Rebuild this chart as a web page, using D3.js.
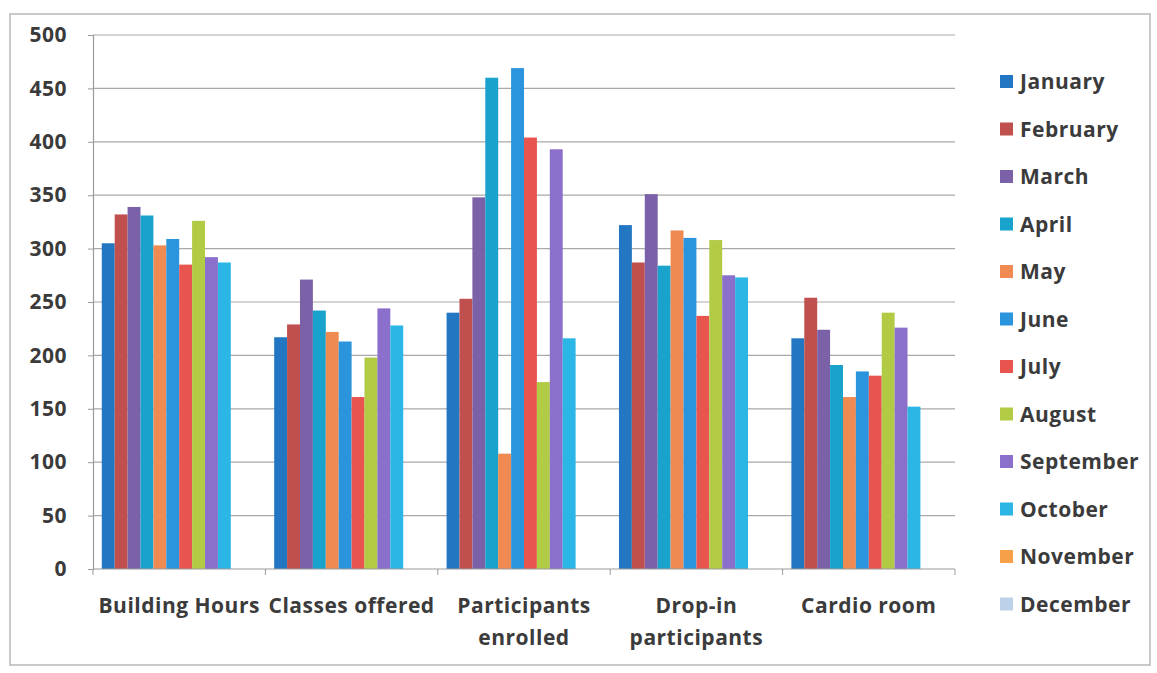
<!DOCTYPE html>
<html>
<head>
<meta charset="utf-8">
<script src="https://cdn.jsdelivr.net/npm/d3@7"></script>
<style>
  body { margin: 0; background: #fff; }
  text { font-family: "Open Sans", Lato, sans-serif; font-weight: 700; fill: #3b3b3b; letter-spacing: 0.5px; }
</style>
</head>
<body>
<div id="chart"></div>
<script>
const width = 1157;
const height = 673;

const categories = [
  ["Building Hours"],
  ["Classes offered"],
  ["Participants", "enrolled"],
  ["Drop-in", "participants"],
  ["Cardio room"]
];
const months = ["January", "February", "March", "April", "May", "June",
  "July", "August", "September", "October", "November", "December"];

// one array per month, values in category order (Nov / Dec have no data)
const january   = [305, 217, 240, 322, 216];
const february  = [332, 229, 253, 287, 254];
const march     = [339, 271, 348, 351, 224];
const april     = [331, 242, 460, 284, 191];
const may       = [303, 222, 108, 317, 161];
const june      = [309, 213, 469, 310, 185];
const july      = [285, 161, 404, 237, 181];
const august    = [326, 198, 175, 308, 240];
const september = [292, 244, 393, 275, 226];
const october   = [287, 228, 216, 273, 152];
const november  = [];
const december  = [];
const series = [january, february, march, april, may, june,
  july, august, september, october, november, december];

const yTicks = [0, 50, 100, 150, 200, 250, 300, 350, 400, 450, 500];

const colors = ["#2377c2", "#c0504d", "#7b62a8", "#18a2cc", "#ee8a52", "#2a95dc",
  "#e8544e", "#b2cb45", "#8a6fcb", "#2cb6e6", "#f6a14a", "#bcd2e8"];

const plot = { left: 93, right: 955, top: 35, bottom: 569 };

const svg = d3.select("#chart")
  .append("svg")
  .attr("width", width)
  .attr("height", height);

// outer frame
svg.append("rect")
  .attr("x", 10).attr("y", 14)
  .attr("width", 1140).attr("height", 651)
  .attr("fill", "none")
  .attr("stroke", "#b8b8b8")
  .attr("stroke-width", 1.5);

const y = d3.scaleLinear()
  .domain([0, 500])
  .range([plot.bottom, plot.top]);

const x0 = d3.scaleBand()
  .domain(d3.range(categories.length))
  .range([plot.left, plot.right]);

const x1 = d3.scaleBand()
  .domain(months)
  .range([0, x0.bandwidth()])
  .paddingOuter(0.68);

const color = d3.scaleOrdinal(months, colors);

// gridlines
svg.append("g")
  .selectAll("line")
  .data(yTicks.filter(d => d > 0))
  .join("line")
  .attr("x1", plot.left)
  .attr("x2", plot.right)
  .attr("y1", d => y(d))
  .attr("y2", d => y(d))
  .attr("stroke", "#a9a9a9")
  .attr("stroke-width", 1.2);

// y axis
const yAxis = svg.append("g")
  .attr("transform", `translate(${plot.left},0)`)
  .call(d3.axisLeft(y).tickValues(yTicks).tickSize(5).tickPadding(21));
yAxis.select(".domain").attr("stroke", "#9a9a9a").attr("stroke-width", 1.2);
yAxis.selectAll(".tick line").attr("stroke", "#9a9a9a");
yAxis.selectAll(".tick text")
  .style("font-size", "21px")
  .attr("fill", "#3b3b3b")
  .style("font-family", "'Open Sans', sans-serif")
  .style("font-weight", 700);

// bars
const groups = svg.append("g")
  .selectAll("g")
  .data(categories)
  .join("g")
  .attr("transform", (d, i) => `translate(${x0(i)},0)`);

groups.selectAll("rect")
  .data((d, i) => months
    .map((m, k) => ({ month: m, value: series[k][i] }))
    .filter(e => e.value != null))
  .join("rect")
  .attr("x", d => x1(d.month))
  .attr("width", x1.bandwidth())
  .attr("y", d => y(d.value))
  .attr("height", d => y(0) - y(d.value))
  .attr("fill", d => color(d.month));

// x axis
svg.append("line")
  .attr("x1", plot.left).attr("x2", plot.right)
  .attr("y1", plot.bottom).attr("y2", plot.bottom)
  .attr("stroke", "#9a9a9a").attr("stroke-width", 1.2);

svg.append("g")
  .selectAll("line")
  .data(d3.range(categories.length + 1))
  .join("line")
  .attr("x1", i => plot.left + i * x0.step())
  .attr("x2", i => plot.left + i * x0.step())
  .attr("y1", plot.bottom)
  .attr("y2", plot.bottom + 6)
  .attr("stroke", "#9a9a9a");

svg.append("g")
  .selectAll("text")
  .data(categories)
  .join("text")
  .attr("x", (d, i) => x0(i) + x0.bandwidth() / 2)
  .attr("y", 613)
  .attr("text-anchor", "middle")
  .style("font-size", "21px")
  .selectAll("tspan")
  .data(d => d)
  .join("tspan")
  .attr("x", function () { return d3.select(this.parentNode).attr("x"); })
  .attr("dy", (d, i) => i === 0 ? 0 : 32)
  .text(d => d);

// legend
const legend = svg.append("g")
  .selectAll("g")
  .data(months)
  .join("g")
  .attr("transform", (d, i) => `translate(1000,${82 + i * 47.5})`);

legend.append("rect")
  .attr("x", 0).attr("y", -7)
  .attr("width", 13).attr("height", 13)
  .attr("fill", d => color(d));

legend.append("text")
  .attr("x", 20)
  .attr("y", 0)
  .attr("dy", "0.35em")
  .style("font-size", "21px")
  .text(d => d);
</script>
</body>
</html>
